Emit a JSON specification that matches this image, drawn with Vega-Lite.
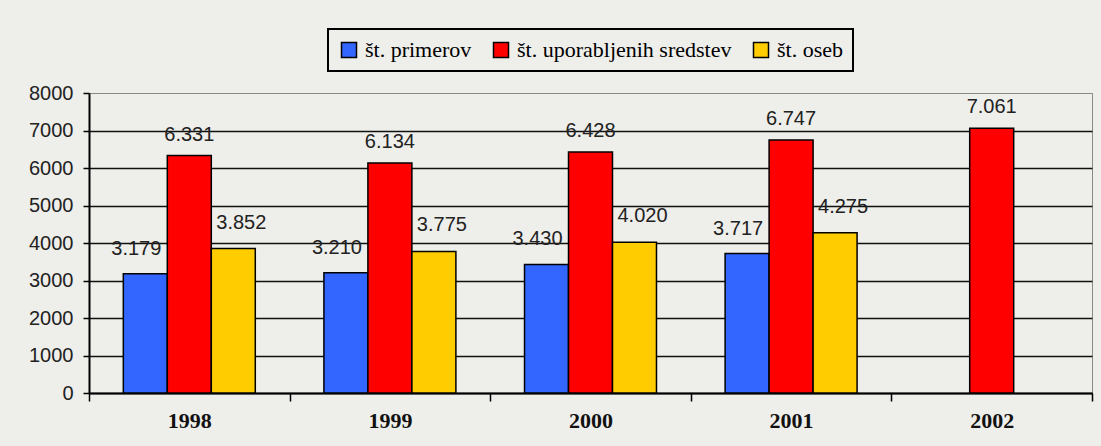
{
  "$schema": "https://vega.github.io/schema/vega-lite/v6.json",
  "width": 1003,
  "height": 300,
  "autosize": {"type": "none"},
  "padding": {"left": 89, "top": 93, "right": 9, "bottom": 53},
  "background": "#eeeeea",
  "config": {
    "locale": {"number": {"decimal": ",", "thousands": ".", "grouping": [3], "currency": ["", ""]}},
    "view": {"stroke": "#8a8a8a", "strokeWidth": 1, "fill": "#eeeeea"},
    "legend": {"labelFont": "Liberation Serif"}
  },
  "data": {
    "values": [
      {"leto": "1998", "serija": "št. primerov", "vrednost": 3179},
      {"leto": "1998", "serija": "št. uporabljenih sredstev", "vrednost": 6331},
      {"leto": "1998", "serija": "št. oseb", "vrednost": 3852},
      {"leto": "1999", "serija": "št. primerov", "vrednost": 3210},
      {"leto": "1999", "serija": "št. uporabljenih sredstev", "vrednost": 6134},
      {"leto": "1999", "serija": "št. oseb", "vrednost": 3775},
      {"leto": "2000", "serija": "št. primerov", "vrednost": 3430},
      {"leto": "2000", "serija": "št. uporabljenih sredstev", "vrednost": 6428},
      {"leto": "2000", "serija": "št. oseb", "vrednost": 4020},
      {"leto": "2001", "serija": "št. primerov", "vrednost": 3717},
      {"leto": "2001", "serija": "št. uporabljenih sredstev", "vrednost": 6747},
      {"leto": "2001", "serija": "št. oseb", "vrednost": 4275},
      {"leto": "2002", "serija": "št. uporabljenih sredstev", "vrednost": 7061}
    ]
  },
  "encoding": {
    "x": {
      "field": "leto",
      "type": "nominal",
      "scale": {"paddingInner": 0, "paddingOuter": 0},
      "axis": {
        "title": null,
        "labelAngle": 0,
        "labelFont": "Liberation Serif",
        "labelFontWeight": "bold",
        "labelFontSize": 22,
        "labelColor": "#111111",
        "tickBand": "extent",
        "tickSize": 8,
        "tickColor": "black",
        "tickWidth": 1.5,
        "domainColor": "black",
        "domainWidth": 2,
        "labelPadding": 9,
        "grid": false
      }
    },
    "xOffset": {
      "field": "serija",
      "type": "nominal",
      "scale": {"domain": ["št. primerov", "št. uporabljenih sredstev", "št. oseb"], "paddingInner": 0, "paddingOuter": 0.78}
    },
    "y": {
      "field": "vrednost",
      "type": "quantitative",
      "scale": {"domain": [0, 8000], "nice": false},
      "axis": {
        "title": null,
        "format": "d",
        "values": [0, 1000, 2000, 3000, 4000, 5000, 6000, 7000, 8000],
        "labelFont": "Liberation Sans",
        "labelFontSize": 20,
        "labelColor": "#222222",
        "tickSize": 6,
        "tickColor": "black",
        "tickWidth": 1.5,
        "domainColor": "black",
        "domainWidth": 2,
        "labelPadding": 10,
        "gridColor": {"condition": {"test": "datum.value >= 8000", "value": "#8a8a8a"}, "value": "#111111"},
        "gridWidth": {"condition": {"test": "datum.value >= 8000", "value": 1}, "value": 1.6}
      }
    }
  },
  "layer": [
    {
      "mark": {"type": "bar", "stroke": "black", "strokeWidth": 1.5},
      "encoding": {
        "color": {
          "field": "serija",
          "type": "nominal",
          "scale": {"domain": ["št. primerov", "št. uporabljenih sredstev", "št. oseb"], "range": ["#3366ff", "#ff0000", "#ffcc00"]},
          "legend": {
            "orient": "none",
            "legendX": 239,
            "legendY": -64,
            "direction": "horizontal",
            "title": null,
            "symbolType": "square",
            "symbolSize": 225,
            "symbolStrokeColor": "black",
            "symbolStrokeWidth": 1.5,
            "labelFont": "Liberation Serif",
            "labelFontSize": 22,
            "labelColor": "black",
            "labelLimit": 400,
            "labelOffset": 5,
            "columnPadding": 18,
            "padding": 10,
            "strokeColor": "black",
            "fillColor": "#eeeeea",
            "encode": {
              "labels": {"update": {"font": {"value": "Liberation Serif"}}},
              "legend": {"update": {"strokeWidth": {"value": 2}}}
            }
          }
        }
      }
    },
    {
      "transform": [{"filter": "datum.serija === 'št. primerov'"}],
      "mark": {"type": "text", "dy": -25, "dx": -9, "baseline": "middle", "font": "Liberation Sans", "fontSize": 20, "fill": "#222222"},
      "encoding": {
        "text": {"field": "vrednost", "type": "quantitative", "format": ",d"}
      }
    },
    {
      "transform": [{"filter": "datum.serija === 'št. uporabljenih sredstev'"}],
      "mark": {"type": "text", "dy": -21, "baseline": "middle", "font": "Liberation Sans", "fontSize": 20, "fill": "#222222"},
      "encoding": {
        "text": {"field": "vrednost", "type": "quantitative", "format": ",d"}
      }
    },
    {
      "transform": [{"filter": "datum.serija === 'št. oseb'"}],
      "mark": {"type": "text", "dy": -26, "dx": 8, "baseline": "middle", "font": "Liberation Sans", "fontSize": 20, "fill": "#222222"},
      "encoding": {
        "text": {"field": "vrednost", "type": "quantitative", "format": ",d"}
      }
    }
  ]
}
